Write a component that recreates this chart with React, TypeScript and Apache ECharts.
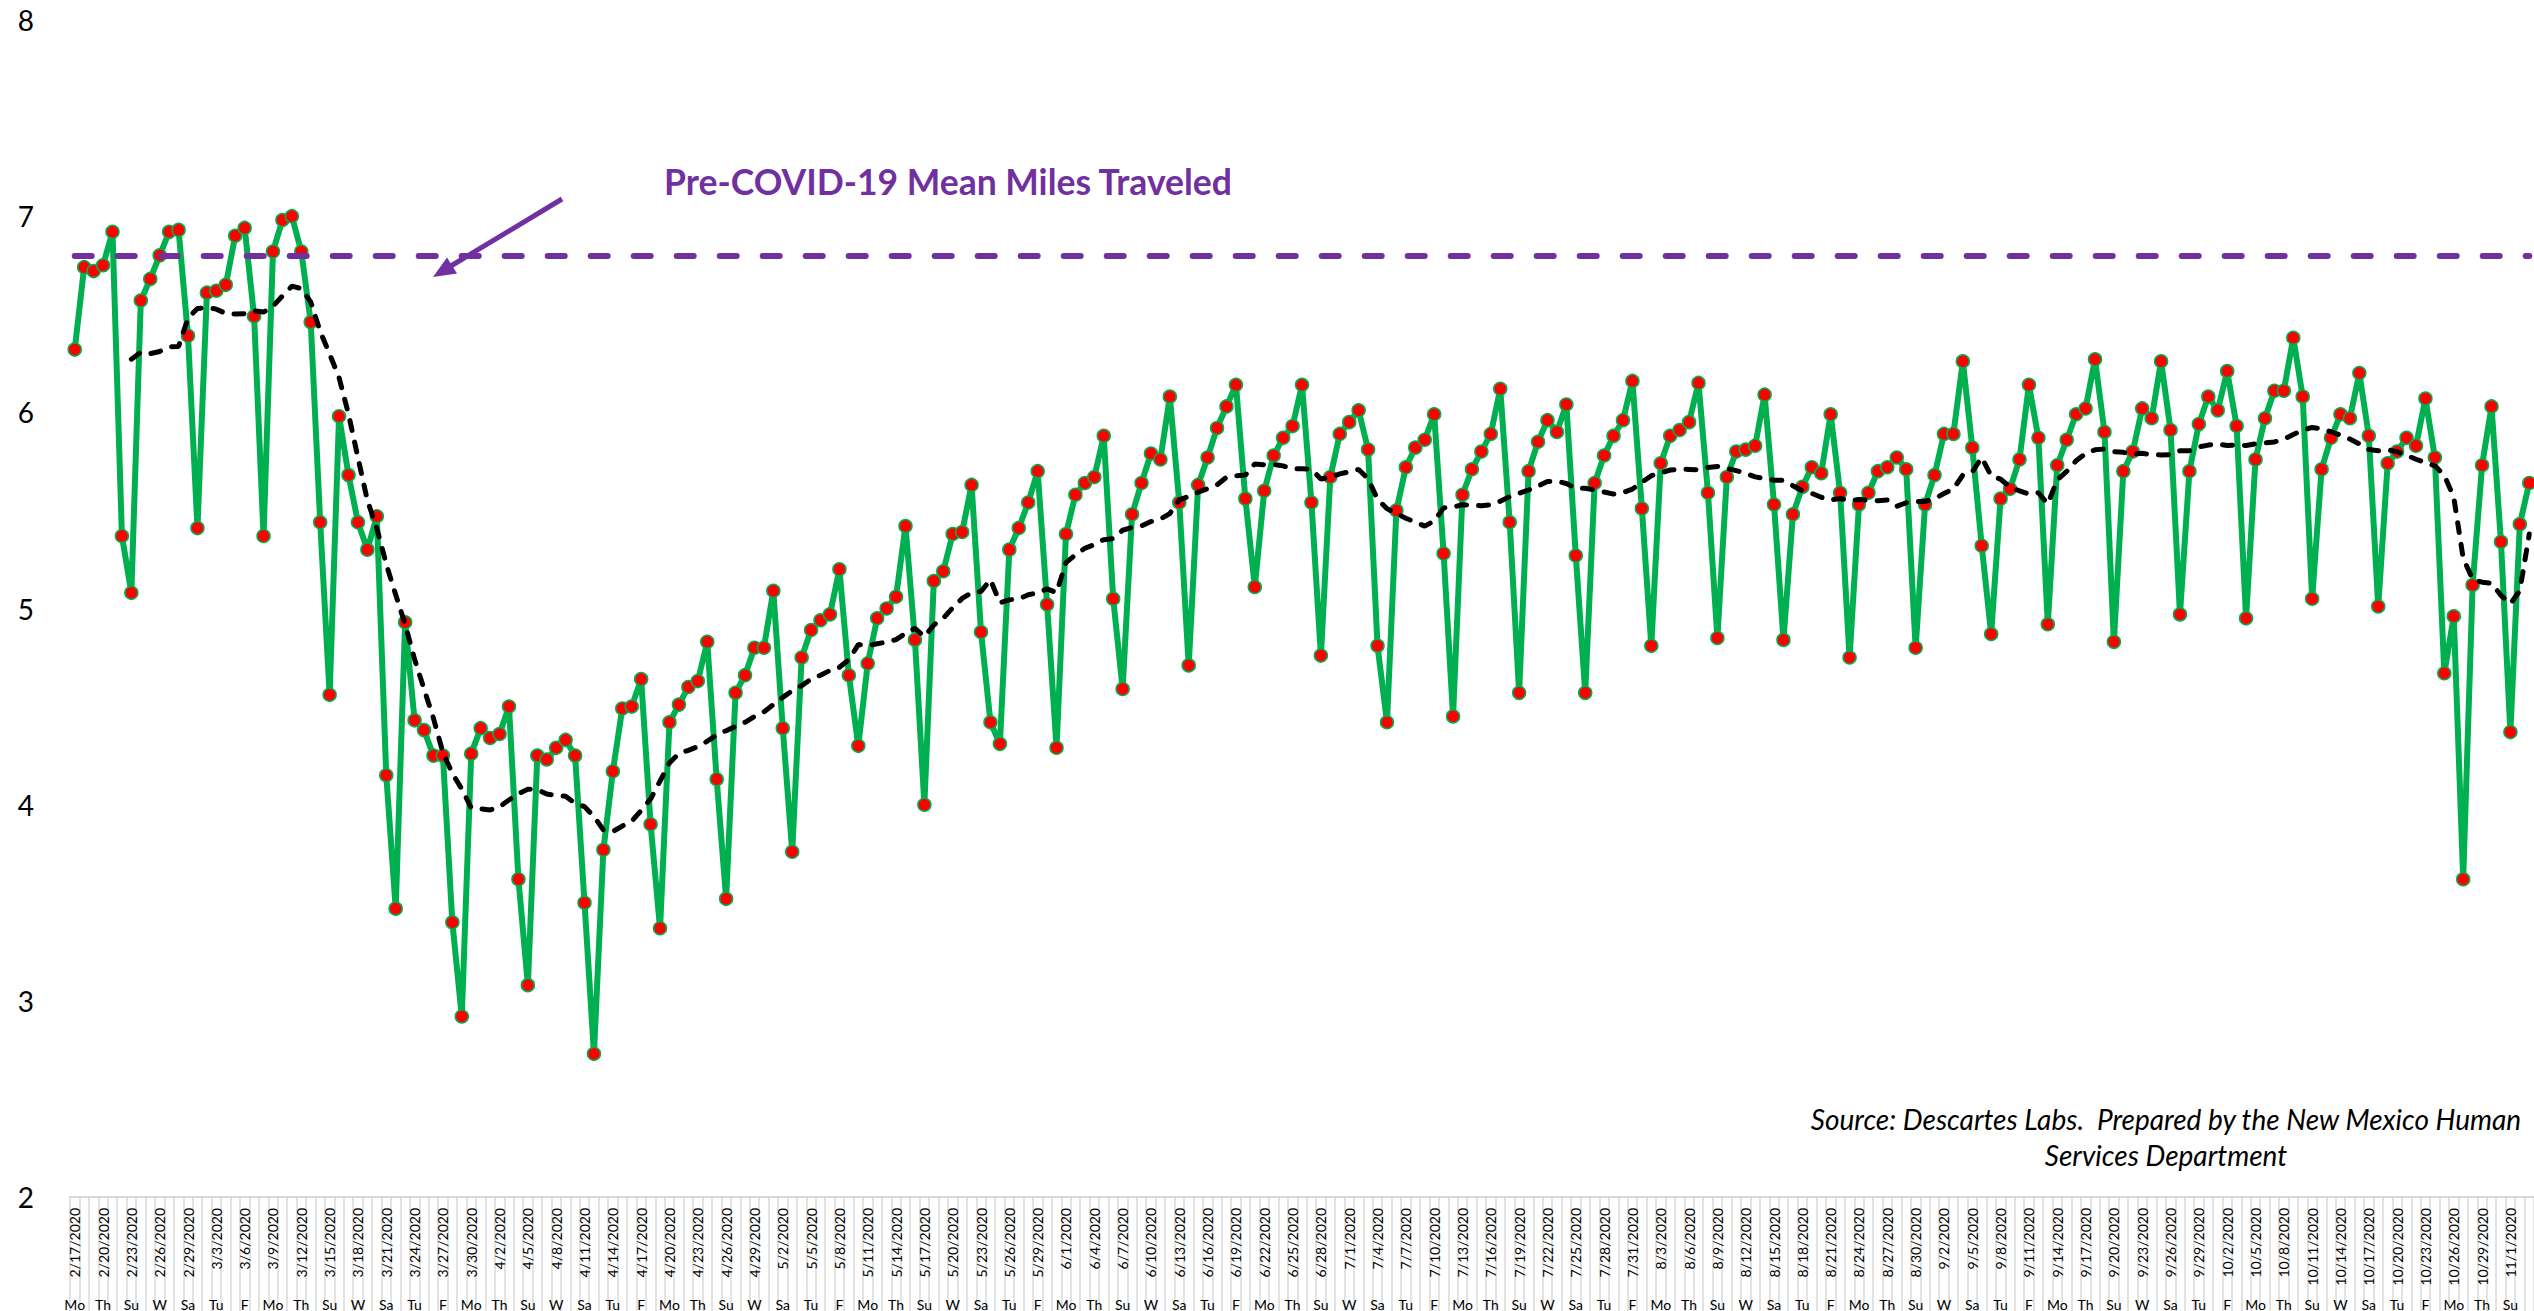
import React, { useEffect, useRef } from "react";
import * as echarts from "echarts";

// Daily mean miles traveled, starting 2/17/2020 (261 days)
const START_YEAR = 2020;
const START_MONTH = 1; // February (0-based)
const START_DAY = 17;

const MILES: number[] = [
  6.32, 6.74, 6.72, 6.75, 6.92, 5.37, 5.08, 6.57, 6.68, 6.80,
  6.92, 6.93, 6.39, 5.41, 6.61, 6.62, 6.65, 6.90, 6.94, 6.49,
  5.37, 6.82, 6.98, 7.00, 6.82, 6.46, 5.44, 4.56, 5.98, 5.68,
  5.44, 5.30, 5.47, 4.15, 3.47, 4.93, 4.43, 4.38, 4.25, 4.25,
  3.40, 2.92, 4.26, 4.39, 4.34, 4.36, 4.50, 3.62, 3.08, 4.25,
  4.23, 4.29, 4.33, 4.25, 3.50, 2.73, 3.77, 4.17, 4.49, 4.50,
  4.64, 3.90, 3.37, 4.42, 4.51, 4.60, 4.63, 4.83, 4.13, 3.52,
  4.57, 4.66, 4.80, 4.80, 5.09, 4.39, 3.76, 4.75, 4.89, 4.94,
  4.97, 5.20, 4.66, 4.30, 4.72, 4.95, 5.00, 5.06, 5.42, 4.84,
  4.00, 5.14, 5.19, 5.38, 5.39, 5.63, 4.88, 4.42, 4.31, 5.30,
  5.41, 5.54, 5.70, 5.02, 4.29, 5.38, 5.58, 5.64, 5.67, 5.88,
  5.05, 4.59, 5.48, 5.64, 5.79, 5.76, 6.08, 5.54, 4.71, 5.63,
  5.77, 5.92, 6.03, 6.14, 5.56, 5.11, 5.60, 5.78, 5.87, 5.93,
  6.14, 5.54, 4.76, 5.67, 5.89, 5.95, 6.01, 5.81, 4.81, 4.42,
  5.50, 5.72, 5.82, 5.86, 5.99, 5.28, 4.45, 5.58, 5.71, 5.80,
  5.89, 6.12, 5.44, 4.57, 5.70, 5.85, 5.96, 5.90, 6.04, 5.27,
  4.57, 5.64, 5.78, 5.88, 5.96, 6.16, 5.51, 4.81, 5.74, 5.88,
  5.91, 5.95, 6.15, 5.59, 4.85, 5.67, 5.80, 5.81, 5.83, 6.09,
  5.53, 4.84, 5.48, 5.62, 5.72, 5.69, 5.99, 5.59, 4.75, 5.53,
  5.59, 5.70, 5.72, 5.77, 5.71, 4.80, 5.53, 5.68, 5.89, 5.89,
  6.26, 5.82, 5.32, 4.87, 5.56, 5.61, 5.76, 6.14, 5.87, 4.92,
  5.73, 5.86, 5.99, 6.02, 6.27, 5.90, 4.83, 5.70, 5.80, 6.02,
  5.97, 6.26, 5.91, 4.97, 5.70, 5.94, 6.08, 6.01, 6.21, 5.93,
  4.95, 5.76, 5.97, 6.11, 6.11, 6.38, 6.08, 5.05, 5.71, 5.87,
  5.99, 5.97, 6.20, 5.88, 5.01, 5.74, 5.80, 5.87, 5.83, 6.07,
  5.77, 4.67, 4.96, 3.62, 5.12, 5.73, 6.03, 5.34, 4.37, 5.43,
  5.64,
];

const PRE_COVID_MEAN = 6.8;
const MA_PERIOD = 7;
const WEEKDAY_NAMES = ["Su", "Mo", "Tu", "W", "Th", "F", "Sa"];
const Y_TICKS = [2, 3, 4, 5, 6, 7, 8];

const DATES: string[] = MILES.map((_, i) => {
  const d = new Date(START_YEAR, START_MONTH, START_DAY + i);
  return `${d.getMonth() + 1}/${d.getDate()}/${d.getFullYear()}`;
});
const WEEKDAYS: string[] = MILES.map((_, i) => {
  const d = new Date(START_YEAR, START_MONTH, START_DAY + i);
  return WEEKDAY_NAMES[d.getDay()];
});

// Excel-style 7-period moving-average trendline of the series
const MOVING_AVG: (number | null)[] = MILES.map((_, i) => {
  if (i < MA_PERIOD - 1) return null;
  let s = 0;
  for (let k = i - MA_PERIOD + 1; k <= i; k++) s += MILES[k];
  return +(s / MA_PERIOD).toFixed(3);
});

const FONT = "Lato, 'Open Sans', sans-serif";
const PURPLE = "#7030A0";
const GREEN = "#00B050";

export default function App() {
  const ref = useRef<HTMLDivElement>(null);

  useEffect(() => {
    if (!ref.current) return;
    const chart = echarts.init(ref.current, null, { renderer: "svg" });
    chart.setOption({
      animation: false,
      backgroundColor: "#ffffff",
      grid: { left: 70, right: 0, top: 20, bottom: 113, containLabel: false },
      xAxis: [
        {
          type: "category",
          data: DATES,
          boundaryGap: true,
          axisLine: { show: true, lineStyle: { color: "#d9d9d9", width: 2 } },
          axisTick: {
            show: true,
            interval: 0,
            length: 120,
            lineStyle: { color: "#d9d9d9", width: 1.5 },
          },
          axisLabel: {
            interval: 2,
            rotate: 90,
            margin: 11,
            fontSize: 14,
            fontFamily: FONT,
            color: "#000",
          },
          splitLine: { show: false },
        },
        {
          type: "category",
          data: WEEKDAYS,
          position: "bottom",
          offset: 92,
          boundaryGap: true,
          axisLine: { show: false },
          axisTick: { show: false },
          axisLabel: {
            interval: 2,
            margin: 8,
            fontSize: 14,
            fontFamily: FONT,
            color: "#000",
          },
          splitLine: { show: false },
        },
      ],
      yAxis: {
        type: "value",
        min: Y_TICKS[0],
        max: Y_TICKS[Y_TICKS.length - 1],
        interval: 1,
        axisLine: { show: false },
        axisTick: { show: false },
        splitLine: { show: false },
        axisLabel: {
          margin: 36,
          fontSize: 28,
          fontFamily: FONT,
          color: "#000",
        },
      },
      series: [
        {
          name: "Mean Miles Traveled",
          type: "line",
          data: MILES,
          xAxisIndex: 0,
          z: 3,
          symbol: "circle",
          symbolSize: 13,
          showAllSymbol: true,
          lineStyle: { color: GREEN, width: 6 },
          itemStyle: { color: "#FF0000", borderColor: GREEN, borderWidth: 1.5 },
          markLine: {
            silent: true,
            symbol: ["none", "none"],
            label: { show: false },
            lineStyle: { color: PURPLE, width: 6, type: [17, 26], cap: "round" },
            data: [[{ coord: [0, PRE_COVID_MEAN] }, { coord: [MILES.length - 1, PRE_COVID_MEAN] }]],
          },
        },
        {
          name: "7 per. Mov. Avg.",
          type: "line",
          data: MOVING_AVG,
          xAxisIndex: 0,
          z: 4,
          symbol: "none",
          connectNulls: false,
          lineStyle: { color: "#000", width: 5, type: [10, 12], cap: "round" },
        },
      ],
      graphic: [
        {
          type: "text",
          x: 948,
          y: 181,
          style: {
            text: "Pre-COVID-19 Mean Miles Traveled",
            fill: PURPLE,
            fontSize: 35.5,
            fontWeight: "bold",
            fontFamily: FONT,
            align: "center",
            verticalAlign: "middle",
            textAlign: "center",
            textVerticalAlign: "middle",
          },
        },
        {
          type: "line",
          shape: { x1: 562, y1: 199, x2: 450, y2: 266.5 },
          style: { stroke: PURPLE, lineWidth: 5 },
        },
        {
          type: "polygon",
          shape: { points: [[433, 277], [457, 273.5], [447, 257.5]] },
          style: { fill: PURPLE },
        },
        {
          type: "text",
          x: 2166,
          y: 1119,
          style: {
            text: "Source: Descartes Labs.  Prepared by the New Mexico Human",
            fill: "#000",
            fontSize: 28,
            fontStyle: "italic",
            fontFamily: FONT,
            align: "center",
            verticalAlign: "middle",
            textAlign: "center",
            textVerticalAlign: "middle",
          },
        },
        {
          type: "text",
          x: 2166,
          y: 1155,
          style: {
            text: "Services Department",
            fill: "#000",
            fontSize: 28,
            fontStyle: "italic",
            fontFamily: FONT,
            align: "center",
            verticalAlign: "middle",
            textAlign: "center",
            textVerticalAlign: "middle",
          },
        },
      ],
    });
    return () => chart.dispose();
  }, []);

  return (
    <div
      ref={ref}
      style={{ position: "fixed", left: 0, top: 0, width: 2534, height: 1311, background: "#fff" }}
    />
  );
}
